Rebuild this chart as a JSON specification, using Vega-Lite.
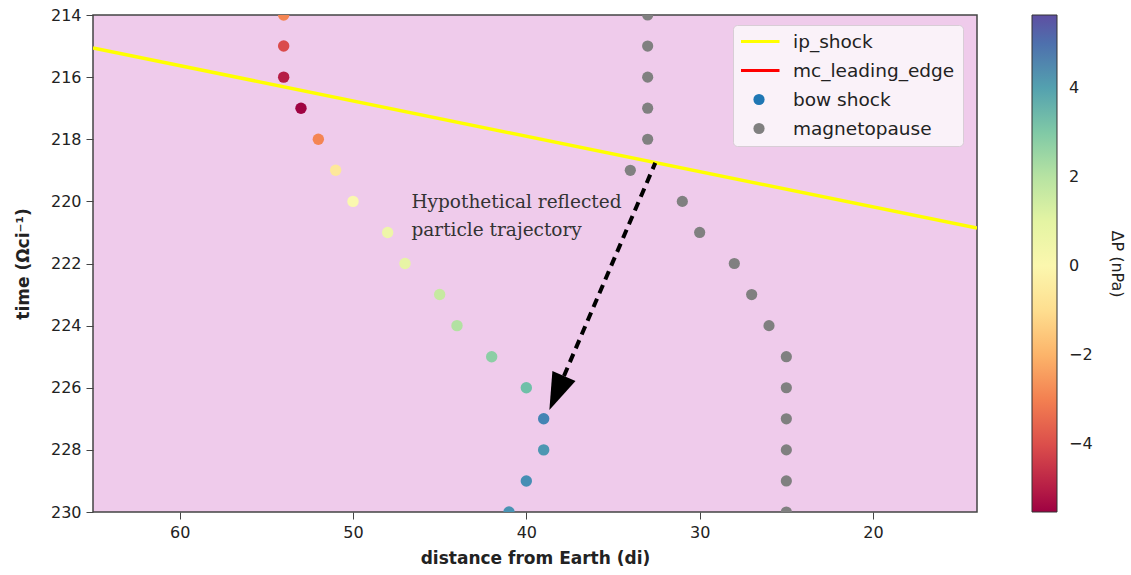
{
  "$schema": "https://vega.github.io/schema/vega-lite/v6.json",
  "width": 884,
  "height": 497,
  "autosize": {"type": "none"},
  "padding": {"left": 93, "top": 15, "right": 154, "bottom": 63},
  "background": "white",
  "config": {
    "font": "DejaVu Sans",
    "view": {"fill": "#efcbeb", "stroke": "#444444", "strokeWidth": 1.5},
    "axis": {
      "grid": false, "domain": false, "tickColor": "#444444", "tickSize": 7, "tickWidth": 1,
      "labelFontSize": 16, "labelColor": "#222222", "labelPadding": 5,
      "titleFontSize": 17, "titleFontWeight": "bold", "titleColor": "#222222"
    },
    "legend": {
      "symbolFillColor": "#808080", "symbolStrokeColor": "#808080", "labelLimit": 300
    }
  },
  "resolve": {"scale": {"fill": "independent", "stroke": "independent", "shape": "independent", "size": "independent"}},
  "datasets": {
    "ipshock": [
      {"distance": 65, "time": 215.06},
      {"distance": 14, "time": 220.86}
    ],
    "bow": [
      {"distance": 54, "time": 214, "dP": -2.9},
      {"distance": 54, "time": 215, "dP": -4.1},
      {"distance": 54, "time": 216, "dP": -5.0},
      {"distance": 53, "time": 217, "dP": -5.5},
      {"distance": 52, "time": 218, "dP": -2.9},
      {"distance": 51, "time": 219, "dP": -0.6},
      {"distance": 50, "time": 220, "dP": 0.1},
      {"distance": 48, "time": 221, "dP": 0.6},
      {"distance": 47, "time": 222, "dP": 0.9},
      {"distance": 45, "time": 223, "dP": 1.7},
      {"distance": 44, "time": 224, "dP": 2.1},
      {"distance": 42, "time": 225, "dP": 2.8},
      {"distance": 40, "time": 226, "dP": 3.3},
      {"distance": 39, "time": 227, "dP": 4.6},
      {"distance": 39, "time": 228, "dP": 4.2},
      {"distance": 40, "time": 229, "dP": 4.4},
      {"distance": 41, "time": 230, "dP": 4.3}
    ],
    "mp": [
      {"distance": 33, "time": 214, "series": "magnetopause"},
      {"distance": 33, "time": 215, "series": "magnetopause"},
      {"distance": 33, "time": 216, "series": "magnetopause"},
      {"distance": 33, "time": 217, "series": "magnetopause"},
      {"distance": 33, "time": 218, "series": "magnetopause"},
      {"distance": 34, "time": 219, "series": "magnetopause"},
      {"distance": 31, "time": 220, "series": "magnetopause"},
      {"distance": 30, "time": 221, "series": "magnetopause"},
      {"distance": 28, "time": 222, "series": "magnetopause"},
      {"distance": 27, "time": 223, "series": "magnetopause"},
      {"distance": 26, "time": 224, "series": "magnetopause"},
      {"distance": 25, "time": 225, "series": "magnetopause"},
      {"distance": 25, "time": 226, "series": "magnetopause"},
      {"distance": 25, "time": 227, "series": "magnetopause"},
      {"distance": 25, "time": 228, "series": "magnetopause"},
      {"distance": 25, "time": 229, "series": "magnetopause"},
      {"distance": 25, "time": 230, "series": "magnetopause"}
    ],
    "arrow": [
      {"distance": 32.56, "time": 218.76},
      {"distance": 37.83, "time": 225.62}
    ],
    "head": [
      {"distance": 38.25, "time": 226.17}
    ],
    "note": [
      {"distance": 46.63, "time": 220.21, "label": "Hypothetical reflected\nparticle trajectory"}
    ]
  },
  "encoding": {
    "x": {
      "field": "distance", "type": "quantitative",
      "scale": {"domain": [65, 14], "nice": false, "zero": false},
      "axis": {"values": [60, 50, 40, 30, 20], "title": "distance from Earth (di)", "titlePadding": 10}
    },
    "y": {
      "field": "time", "type": "quantitative",
      "scale": {"domain": [214, 230], "reverse": true, "nice": false, "zero": false},
      "axis": {"values": [214, 216, 218, 220, 222, 224, 226, 228, 230], "title": "time (Ωci⁻¹)", "titlePadding": 18}
    }
  },
  "layer": [
    {
      "data": {"name": "ipshock"},
      "mark": {"type": "line", "color": "#ffff00", "strokeWidth": 3.5, "clip": true}
    },
    {
      "data": {"name": "bow"},
      "mark": {"type": "point", "filled": true, "size": 130, "opacity": 1, "clip": true},
      "encoding": {
        "fill": {
          "field": "dP", "type": "quantitative",
          "scale": {"scheme": "spectral", "domain": [-5.53, 5.64]},
          "legend": {
            "orient": "none", "legendX": 939, "legendY": 0, "direction": "vertical",
            "gradientLength": 497, "gradientThickness": 25,
            "gradientStrokeColor": "#333333", "gradientStrokeWidth": 1,
            "values": [-4, -2, 0, 2, 4], "padding": 0,
            "labelFontSize": 16, "labelColor": "#222222", "labelOffset": 12,
            "title": "ΔP (nPa)", "titleOrient": "right", "titleAnchor": "middle", "titleAngle": 270,
            "titleFontWeight": "normal", "titleFontSize": 16, "titleColor": "#222222",
            "titlePadding": 16
          }
        }
      }
    },
    {
      "data": {"name": "mp"},
      "mark": {"type": "point", "filled": true, "opacity": 1, "clip": true},
      "encoding": {
        "fill": {
          "field": "series", "type": "nominal",
          "scale": {"domain": ["ip_shock", "mc_leading_edge", "bow shock", "magnetopause"], "range": ["transparent", "transparent", "#1f77b4", "#808080"]},
          "legend": {
            "title": null, "orient": "none", "legendX": 640, "legendY": 10, "direction": "vertical",
            "fillColor": "#faf2f9", "strokeColor": "#d8cdd6", "cornerRadius": 4, "padding": 8,
            "labelFontSize": 18.5, "labelColor": "#222222", "labelOffset": 12, "labelLimit": 300,
            "symbolOffset": -4, "rowPadding": 10, "clipHeight": 17, "symbolStrokeWidth": 3
          }
        },
        "stroke": {
          "field": "series", "type": "nominal",
          "scale": {"domain": ["ip_shock", "mc_leading_edge", "bow shock", "magnetopause"], "range": ["#ffff00", "#ff0000", "transparent", "transparent"]},
          "legend": {
            "title": null, "orient": "none", "legendX": 640, "legendY": 10, "direction": "vertical",
            "fillColor": "#faf2f9", "strokeColor": "#d8cdd6", "cornerRadius": 4, "padding": 8,
            "labelFontSize": 18.5, "labelColor": "#222222", "labelOffset": 12, "labelLimit": 300,
            "symbolOffset": -4, "rowPadding": 10, "clipHeight": 17, "symbolStrokeWidth": 3
          }
        },
        "shape": {
          "field": "series", "type": "nominal",
          "scale": {"domain": ["ip_shock", "mc_leading_edge", "bow shock", "magnetopause"], "range": ["stroke", "stroke", "circle", "circle"]},
          "legend": {
            "title": null, "orient": "none", "legendX": 640, "legendY": 10, "direction": "vertical",
            "fillColor": "#faf2f9", "strokeColor": "#d8cdd6", "cornerRadius": 4, "padding": 8,
            "labelFontSize": 18.5, "labelColor": "#222222", "labelOffset": 12, "labelLimit": 300,
            "symbolOffset": -4, "rowPadding": 10, "clipHeight": 17, "symbolStrokeWidth": 3
          }
        },
        "size": {
          "field": "series", "type": "ordinal",
          "scale": {"type": "ordinal", "domain": ["ip_shock", "mc_leading_edge", "bow shock", "magnetopause"], "range": [1681, 1681, 125, 125]},
          "legend": {
            "title": null, "orient": "none", "legendX": 640, "legendY": 10, "direction": "vertical",
            "fillColor": "#faf2f9", "strokeColor": "#d8cdd6", "cornerRadius": 4, "padding": 8,
            "labelFontSize": 18.5, "labelColor": "#222222", "labelOffset": 12, "labelLimit": 300,
            "symbolOffset": -4, "rowPadding": 10, "clipHeight": 17, "symbolStrokeWidth": 3
          }
        }
      }
    },
    {
      "data": {"name": "arrow"},
      "mark": {"type": "line", "color": "black", "strokeWidth": 4, "strokeDash": [9, 6], "strokeCap": "butt"}
    },
    {
      "data": {"name": "head"},
      "mark": {"type": "point", "shape": "M0,1L-0.68,-1L0.68,-1Z", "size": 1369, "angle": 23.2, "filled": true, "fill": "black", "opacity": 1, "strokeWidth": 0}
    },
    {
      "data": {"name": "note"},
      "mark": {"type": "text", "align": "left", "baseline": "alphabetic", "font": "DejaVu Serif", "fontSize": 18.5, "lineHeight": 28, "lineBreak": "\n", "color": "#333333"},
      "encoding": {"text": {"field": "label"}}
    }
  ]
}
